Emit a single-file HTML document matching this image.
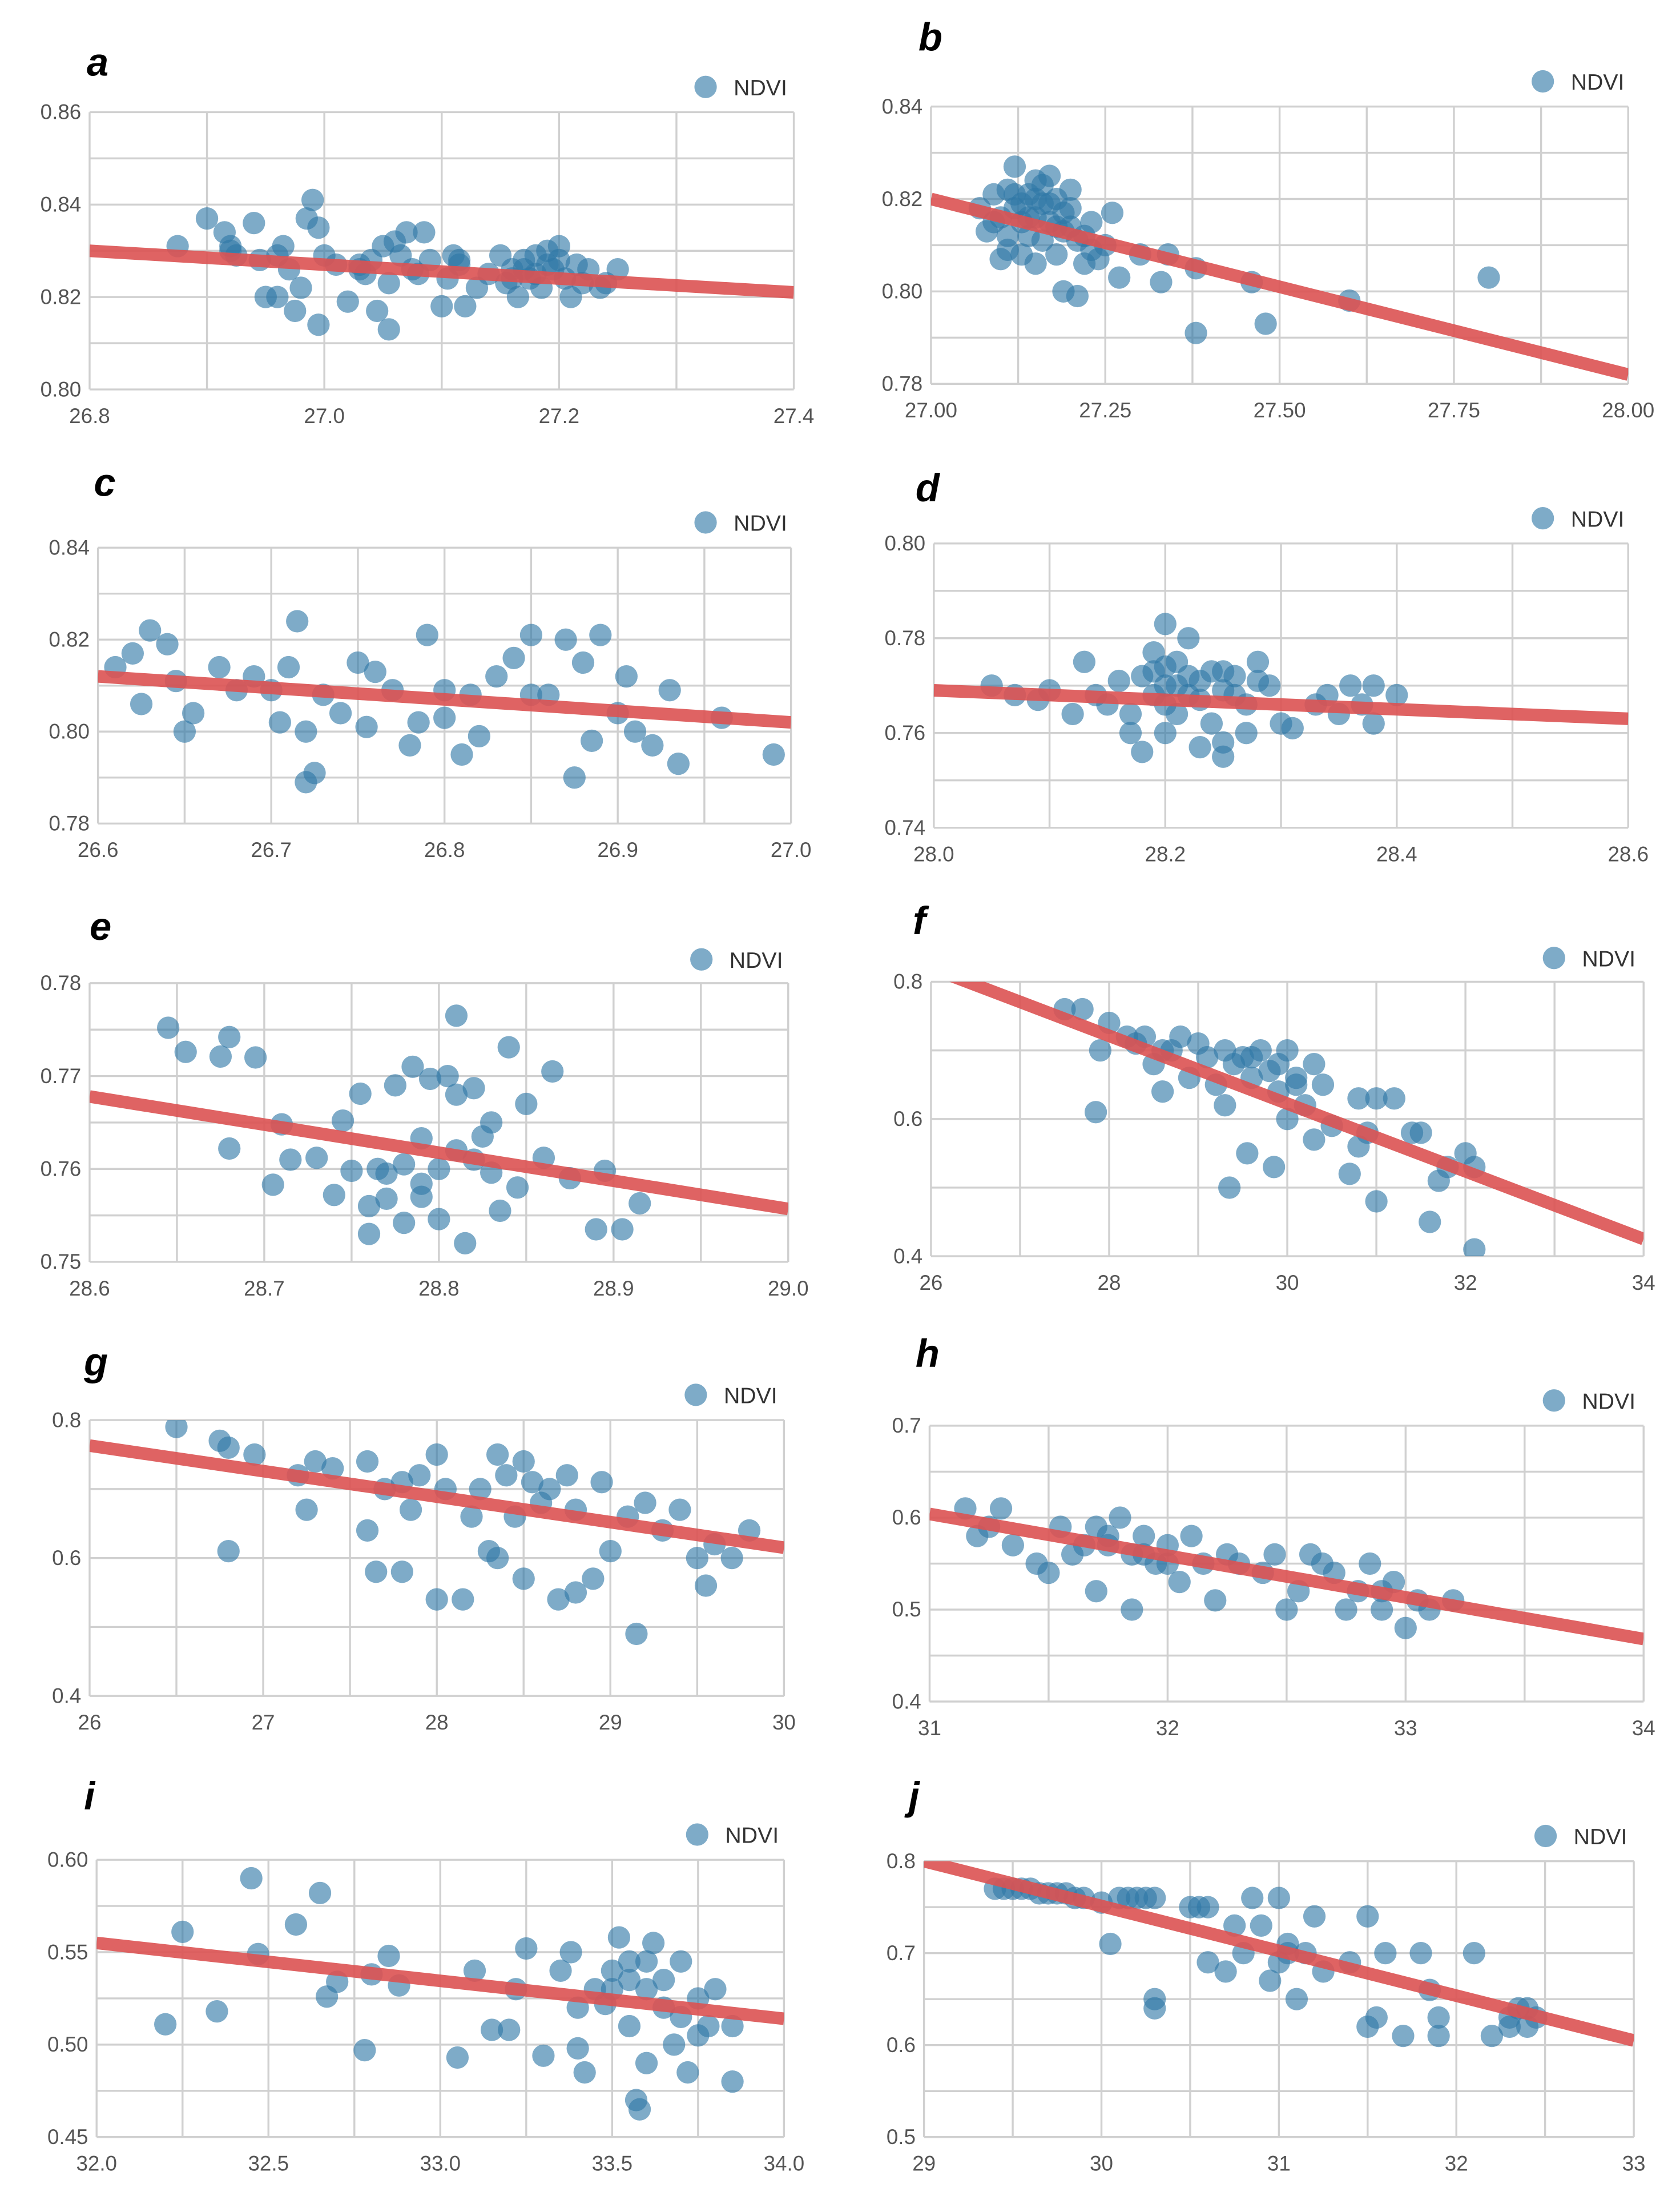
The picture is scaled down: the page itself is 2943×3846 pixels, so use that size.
<!DOCTYPE html>
<html><head><meta charset="utf-8"><style>
html,body{margin:0;padding:0;background:#fff}
svg{display:block}
text{font-family:"Liberation Sans",sans-serif}
</style></head><body>
<svg id="fig" width="2943" height="3846" viewBox="0 0 1200 1568" xmlns="http://www.w3.org/2000/svg"></svg>
<script>
// ---- data (x = temperature-like, y = NDVI) ----
const pts_a=[[26.875,.831],[26.9,.837],[26.915,.834],[26.92,.831],[26.925,.829],[26.94,.836],[26.945,.828],[26.95,.820],[26.96,.820],[26.965,.831],[26.97,.826],[26.975,.817],[26.98,.822],[26.985,.837],[26.99,.841],[26.995,.835],[27.0,.829],[26.995,.814],[27.01,.827],[27.02,.819],[27.03,.827],[27.035,.825],[27.045,.817],[27.05,.831],[27.055,.823],[27.055,.813],[27.065,.829],[27.07,.834],[27.075,.826],[27.085,.834],[27.09,.828],[27.1,.818],[27.105,.824],[27.11,.829],[27.115,.827],[27.12,.818],[27.13,.822],[27.14,.825],[27.15,.829],[27.155,.823],[27.16,.826],[27.165,.820],[27.17,.828],[27.175,.824],[27.18,.829],[27.185,.822],[27.19,.830],[27.195,.826],[27.2,.831],[27.205,.824],[27.21,.820],[27.22,.823],[27.225,.826],[27.235,.822],[27.25,.826],[26.92,.830],[26.96,.829],[27.03,.826],[27.04,.828],[27.06,.832],[27.08,.825],[27.115,.828],[27.16,.824],[27.17,.826],[27.18,.825],[27.19,.827],[27.2,.828],[27.215,.827],[27.24,.823]];
const pts_b=[[27.07,.818],[27.08,.813],[27.09,.821],[27.1,.816],[27.1,.807],[27.11,.822],[27.11,.812],[27.12,.827],[27.12,.818],[27.13,.815],[27.13,.808],[27.14,.821],[27.14,.812],[27.15,.824],[27.15,.816],[27.15,.806],[27.16,.819],[27.16,.811],[27.17,.825],[27.17,.815],[27.18,.820],[27.18,.808],[27.19,.800],[27.19,.813],[27.2,.822],[27.2,.818],[27.21,.811],[27.21,.799],[27.22,.806],[27.23,.815],[27.24,.807],[27.25,.810],[27.26,.817],[27.27,.803],[27.3,.808],[27.33,.802],[27.34,.808],[27.38,.805],[27.38,.791],[27.46,.802],[27.48,.793],[27.6,.798],[27.8,.803],[27.09,.815],[27.12,.821],[27.13,.819],[27.14,.816],[27.15,.820],[27.16,.823],[27.17,.819],[27.18,.814],[27.19,.817],[27.2,.814],[27.22,.812],[27.23,.809],[27.11,.809]];
const pts_c=[[26.61,.814],[26.62,.817],[26.625,.806],[26.63,.822],[26.64,.819],[26.645,.811],[26.65,.800],[26.655,.804],[26.67,.814],[26.68,.809],[26.69,.812],[26.7,.809],[26.705,.802],[26.71,.814],[26.715,.824],[26.72,.800],[26.72,.789],[26.725,.791],[26.73,.808],[26.74,.804],[26.75,.815],[26.755,.801],[26.76,.813],[26.77,.809],[26.78,.797],[26.785,.802],[26.79,.821],[26.8,.809],[26.8,.803],[26.81,.795],[26.815,.808],[26.82,.799],[26.83,.812],[26.84,.816],[26.85,.808],[26.85,.821],[26.86,.808],[26.87,.820],[26.875,.790],[26.88,.815],[26.885,.798],[26.89,.821],[26.9,.804],[26.905,.812],[26.91,.800],[26.92,.797],[26.93,.809],[26.935,.793],[26.96,.803],[26.99,.795]];
const pts_d=[[28.05,.770],[28.07,.768],[28.09,.767],[28.1,.769],[28.12,.764],[28.13,.775],[28.14,.768],[28.15,.766],[28.16,.771],[28.17,.764],[28.17,.760],[28.18,.756],[28.18,.772],[28.19,.777],[28.19,.768],[28.2,.783],[28.2,.774],[28.2,.766],[28.2,.760],[28.21,.770],[28.21,.764],[28.22,.780],[28.22,.772],[28.23,.767],[28.23,.757],[28.24,.773],[28.24,.762],[28.25,.769],[28.25,.755],[28.26,.772],[28.27,.766],[28.27,.760],[28.28,.775],[28.29,.770],[28.3,.762],[28.31,.761],[28.33,.766],[28.34,.768],[28.35,.764],[28.36,.770],[28.37,.766],[28.38,.762],[28.38,.770],[28.4,.768],[28.19,.773],[28.21,.775],[28.23,.771],[28.25,.773],[28.25,.758],[28.26,.768],[28.28,.771],[28.2,.770],[28.22,.768]];
const pts_e=[[28.645,.7752],[28.655,.7726],[28.675,.7721],[28.68,.7742],[28.695,.7720],[28.68,.7622],[28.705,.7583],[28.71,.7648],[28.715,.7610],[28.73,.7612],[28.74,.7572],[28.745,.7652],[28.75,.7598],[28.755,.7681],[28.76,.7530],[28.765,.7600],[28.77,.7568],[28.775,.7690],[28.78,.7542],[28.785,.7710],[28.79,.7584],[28.79,.7633],[28.795,.7697],[28.8,.7546],[28.805,.7700],[28.81,.7765],[28.81,.7620],[28.815,.7520],[28.82,.7687],[28.825,.7635],[28.83,.7596],[28.835,.7555],[28.84,.7731],[28.845,.7580],[28.85,.7670],[28.86,.7612],[28.865,.7705],[28.875,.7590],[28.89,.7535],[28.895,.7598],[28.905,.7535],[28.915,.7563],[28.77,.7595],[28.78,.7605],[28.8,.7600],[28.82,.7610],[28.76,.7560],[28.79,.7570],[28.81,.7680],[28.83,.7650]];
const pts_f=[[27.5,.76],[27.7,.76],[27.9,.70],[28.0,.74],[28.2,.72],[27.85,.61],[28.4,.72],[28.5,.68],[28.6,.70],[28.6,.64],[28.8,.72],[28.9,.66],[29.0,.71],[29.1,.69],[29.2,.65],[29.3,.70],[29.3,.62],[29.35,.50],[29.5,.69],[29.55,.55],[29.6,.66],[29.7,.70],[29.8,.67],[29.85,.53],[29.9,.64],[30.0,.70],[30.0,.60],[30.1,.66],[30.2,.62],[30.3,.68],[30.3,.57],[30.4,.65],[30.5,.59],[30.7,.52],[30.8,.56],[30.8,.63],[30.9,.58],[31.0,.63],[31.0,.48],[31.2,.63],[31.4,.58],[31.5,.58],[31.6,.45],[31.7,.51],[31.8,.53],[32.0,.55],[32.1,.53],[32.1,.41],[28.3,.71],[28.7,.70],[29.4,.68],[29.6,.69],[29.9,.68],[30.1,.65]];
const pts_g=[[26.5,.79],[26.75,.77],[26.8,.76],[26.8,.61],[26.95,.75],[27.2,.72],[27.25,.67],[27.3,.74],[27.4,.73],[27.6,.74],[27.6,.64],[27.65,.58],[27.7,.70],[27.8,.71],[27.8,.58],[27.85,.67],[27.9,.72],[28.0,.75],[28.0,.54],[28.05,.70],[28.15,.54],[28.2,.66],[28.25,.70],[28.3,.61],[28.35,.60],[28.35,.75],[28.4,.72],[28.45,.66],[28.5,.74],[28.5,.57],[28.55,.71],[28.6,.68],[28.65,.70],[28.7,.54],[28.75,.72],[28.8,.67],[28.8,.55],[28.9,.57],[28.95,.71],[29.0,.61],[29.1,.66],[29.15,.49],[29.2,.68],[29.3,.64],[29.4,.67],[29.5,.60],[29.55,.56],[29.6,.62],[29.7,.60],[29.8,.64]];
const pts_h=[[31.15,.61],[31.2,.58],[31.25,.59],[31.3,.61],[31.35,.57],[31.45,.55],[31.5,.54],[31.55,.59],[31.6,.56],[31.7,.59],[31.7,.52],[31.75,.57],[31.8,.60],[31.85,.56],[31.85,.50],[31.9,.58],[31.95,.55],[32.0,.57],[32.05,.53],[32.1,.58],[32.15,.55],[32.2,.51],[32.3,.55],[32.4,.54],[32.45,.56],[32.5,.50],[32.55,.52],[32.6,.56],[32.7,.54],[32.75,.50],[32.8,.52],[32.85,.55],[32.9,.50],[32.95,.53],[33.0,.48],[33.05,.51],[33.1,.50],[33.2,.51],[31.65,.57],[31.75,.58],[31.9,.56],[32.0,.55],[32.25,.56],[32.65,.55],[32.9,.52]];
const pts_i=[[32.2,.511],[32.25,.561],[32.35,.518],[32.45,.590],[32.47,.549],[32.58,.565],[32.65,.582],[32.67,.526],[32.7,.534],[32.78,.497],[32.8,.538],[32.85,.548],[32.88,.532],[33.05,.493],[33.1,.540],[33.15,.508],[33.2,.508],[33.22,.530],[33.25,.552],[33.3,.494],[33.35,.540],[33.38,.550],[33.4,.520],[33.4,.498],[33.42,.485],[33.45,.530],[33.48,.522],[33.5,.540],[33.52,.558],[33.55,.545],[33.55,.510],[33.57,.470],[33.6,.530],[33.6,.490],[33.62,.555],[33.65,.520],[33.68,.500],[33.7,.545],[33.72,.485],[33.75,.525],[33.78,.510],[33.8,.530],[33.85,.480],[33.85,.510],[33.5,.530],[33.55,.535],[33.6,.545],[33.65,.535],[33.7,.515],[33.75,.505],[33.58,.465]];
const pts_j=[[29.4,.77],[29.5,.77],[29.6,.77],[29.7,.765],[29.8,.765],[29.9,.76],[30.0,.755],[30.05,.71],[30.1,.76],[30.2,.76],[30.3,.76],[30.3,.65],[30.3,.64],[30.5,.75],[30.6,.75],[30.6,.69],[30.7,.68],[30.75,.73],[30.8,.70],[30.85,.76],[30.9,.73],[30.95,.67],[31.0,.76],[31.0,.69],[31.05,.71],[31.1,.65],[31.15,.70],[31.2,.74],[31.25,.68],[31.4,.69],[31.5,.74],[31.5,.62],[31.55,.63],[31.6,.70],[31.7,.61],[31.8,.70],[31.85,.66],[31.9,.63],[31.9,.61],[32.1,.70],[32.2,.61],[32.3,.63],[32.35,.64],[32.4,.62],[32.45,.63],[29.45,.77],[29.55,.77],[29.65,.765],[29.75,.765],[29.85,.76],[30.15,.76],[30.25,.76],[30.55,.75],[31.05,.70],[32.3,.62],[32.4,.64]];
// regression endpoints: NDVI at x-min and x-max of each axis
const fitStart={a:.830,b:.820,c:.812,d:.769,e:.7678,f:.820,g:.763,h:.604,i:.555,j:.800};
const fitEnd={a:.821,b:.782,c:.802,d:.763,e:.7557,f:.425,g:.615,h:.468,i:.514,j:.605};
// axis tick labels
const xTicks={a:["26.8","27.0","27.2","27.4"],b:["27.00","27.25","27.50","27.75","28.00"],c:["26.6","26.7","26.8","26.9","27.0"],d:["28.0","28.2","28.4","28.6"],e:["28.6","28.7","28.8","28.9","29.0"],f:["26","28","30","32","34"],g:["26","27","28","29","30"],h:["31","32","33","34"],i:["32.0","32.5","33.0","33.5","34.0"],j:["29","30","31","32","33"]};
const yTicks={a:["0.80","0.82","0.84","0.86"],b:["0.78","0.80","0.82","0.84"],c:["0.78","0.80","0.82","0.84"],d:["0.74","0.76","0.78","0.80"],e:["0.75","0.76","0.77","0.78"],f:["0.4","0.6","0.8"],g:["0.4","0.6","0.8"],h:["0.4","0.5","0.6","0.7"],i:["0.45","0.50","0.55","0.60"],j:["0.5","0.6","0.7","0.8"]};
const pts={a:pts_a,b:pts_b,c:pts_c,d:pts_d,e:pts_e,f:pts_f,g:pts_g,h:pts_h,i:pts_i,j:pts_j};

// ---- layout (display units) ----
const L={
a:{x0:64,x1:567,y0:80,y1:278,lx:62,ly:54,gx:504,gy:62},
b:{x0:665,x1:1163,y0:76,y1:274,lx:656,ly:36,gx:1102,gy:58},
c:{x0:70,x1:565,y0:391,y1:588,lx:67,ly:354,gx:504,gy:373},
d:{x0:667,x1:1163,y0:388,y1:591,lx:654,ly:358,gx:1102,gy:370},
e:{x0:64,x1:563,y0:702,y1:901,lx:64,ly:671,gx:501,gy:685},
f:{x0:665,x1:1174,y0:701,y1:897,lx:652,ly:667,gx:1110,gy:684},
g:{x0:64,x1:560,y0:1014,y1:1211,lx:60,ly:982,gx:497,gy:996},
h:{x0:664,x1:1174,y0:1018,y1:1215,lx:654,ly:976,gx:1110,gy:1000},
i:{x0:69,x1:560,y0:1328,y1:1526,lx:60,ly:1292,gx:498,gy:1310},
j:{x0:660,x1:1167,y0:1329,y1:1526,lx:649,ly:1292,gx:1104,gy:1311}};

const NS="http://www.w3.org/2000/svg";
const svg=document.getElementById('fig');
function mk(tag,attrs,parent){const e=document.createElementNS(NS,tag);for(const k in attrs)e.setAttribute(k,attrs[k]);(parent||svg).appendChild(e);return e;}

for(const k of Object.keys(L)){
  const p=L[k];
  const xt=xTicks[k].map(Number), yt=yTicks[k].map(Number);
  const xmin=xt[0],xmax=xt[xt.length-1],ymin=yt[0],ymax=yt[yt.length-1];
  const sx=v=>p.x0+(v-xmin)/(xmax-xmin)*(p.x1-p.x0);
  const sy=v=>p.y1-(v-ymin)/(ymax-ymin)*(p.y1-p.y0);
  const g=mk('g',{});
  
  
  const clip=mk('clipPath',{id:'clip-'+k},g);
  mk('rect',{x:p.x0,y:p.y0,width:p.x1-p.x0,height:p.y1-p.y0},clip);
  const xs=(xt[1]-xt[0])/2, ys=(yt[1]-yt[0])/2;
  const nx=Math.round((xmax-xmin)/xs), ny=Math.round((ymax-ymin)/ys);
  for(let i=0;i<=nx;i++){const gl=mk('line',{x1:sx(xmin+i*xs),x2:sx(xmin+i*xs),y1:p.y0,y2:p.y1,stroke:'#d0d0d0','stroke-width':1.4},g);
    }
  for(let i=0;i<=ny;i++){const gl=mk('line',{x1:p.x0,x2:p.x1,y1:sy(ymin+i*ys),y2:sy(ymin+i*ys),stroke:'#d0d0d0','stroke-width':1.4},g);
    }
  xTicks[k].forEach((t,i)=>{const e=mk('text',{x:sx(xt[i]),y:p.y1+24,'text-anchor':'middle','font-size':15,fill:'#555'},g);e.textContent=t;
    });
  yTicks[k].forEach((t,i)=>{const e=mk('text',{x:p.x0-6,y:sy(yt[i])+5,'text-anchor':'end','font-size':15,fill:'#555'},g);e.textContent=t;
    });
  const pg=mk('g',{'clip-path':'url(#clip-'+k+')'},g);
  pts[k].forEach(d=>{const c=mk('circle',{cx:sx(d[0]),cy:sy(d[1]),r:8,fill:'#2f77a6','fill-opacity':0.62},pg);
    });
  const rl=mk('line',{x1:sx(xmin),y1:sy(fitStart[k]),x2:sx(xmax),y2:sy(fitEnd[k]),stroke:'#dc5252','stroke-opacity':0.9,'stroke-width':9,'clip-path':'url(#clip-'+k+')'},g);
  
  const lc=mk('circle',{cx:p.gx,cy:p.gy,r:8,fill:'#2f77a6','fill-opacity':0.62},g);
  
  const lt=mk('text',{x:p.gx+20,y:p.gy+6,'font-size':16,fill:'#333'},g);lt.textContent='NDVI';
  
  const pl=mk('text',{x:p.lx,y:p.ly,'font-size':28,'font-weight':'bold','font-style':'italic',fill:'#000'},g);pl.textContent=k;
  
}
</script>
</body></html>
